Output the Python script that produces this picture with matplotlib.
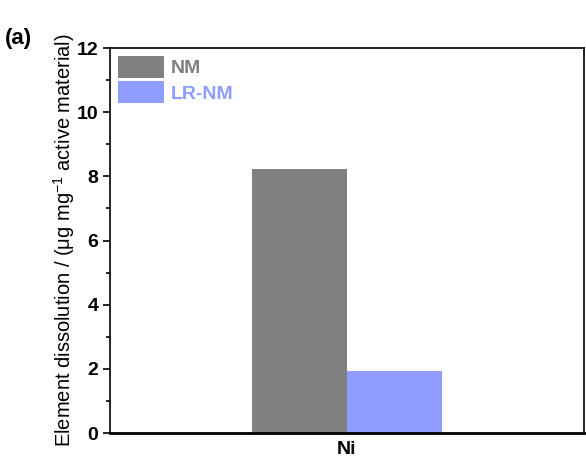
import matplotlib
matplotlib.use("Agg")
import matplotlib.pyplot as plt
from matplotlib.ticker import MultipleLocator

plt.rcParams["font.family"] = ["Liberation Sans", "DejaVu Sans"]
plt.rcParams["font.weight"] = "bold"

# data
elements = ["Ni"]
nm_values = [8.22]
lrnm_values = [1.94]
series_names = ["NM", "LR-NM"]
colors = ["#808080", "#8f9cff"]

fig = plt.figure(figsize=(5.86, 4.61), dpi=100)
ax = fig.add_axes([110 / 586, 28 / 461, 474 / 586, 385 / 461])

x = list(range(len(elements)))
w = 0.4
ax.bar([i - w / 2 for i in x], nm_values, width=w, color=colors[0], label=series_names[0])
ax.bar([i + w / 2 for i in x], lrnm_values, width=w, color=colors[1], label=series_names[1])

ax.set_xlim(-1, 1)
ax.set_ylim(0, 12)
ax.set_xticks(x)
ax.set_xticklabels(elements, fontsize=14, fontweight="bold")
ax.tick_params(axis="x", length=0, pad=6)
ax.yaxis.set_major_locator(MultipleLocator(2))
ax.yaxis.set_minor_locator(MultipleLocator(1))
ax.tick_params(axis="y", which="major", length=5, width=1.2, labelsize=14, direction="out")
ax.tick_params(axis="y", which="minor", length=3, width=1.2, direction="out")
for lbl in ax.get_yticklabels():
    lbl.set_fontweight("bold")
for s in ax.spines.values():
    s.set_linewidth(1.2)
ax.spines["bottom"].set_linewidth(2)

ax.set_ylabel("Element dissolution / (μg mg$^{\\mathregular{-1}}$ active material)",
              fontsize=14.5, fontweight="medium", labelpad=0)

leg = ax.legend(loc="upper left", frameon=False, fontsize=14, handlelength=2.4,
                handleheight=1.35, borderaxespad=0.2, handletextpad=0.3,
                labelspacing=0.2, borderpad=0.2)
for t, c in zip(leg.get_texts(), colors):
    t.set_color(c)
    t.set_fontweight("bold")

fig.text(5 / 586, 1 - 28 / 461, "(a)", fontsize=16, fontweight="bold", va="top")

fig.savefig("out.png", dpi=100)
